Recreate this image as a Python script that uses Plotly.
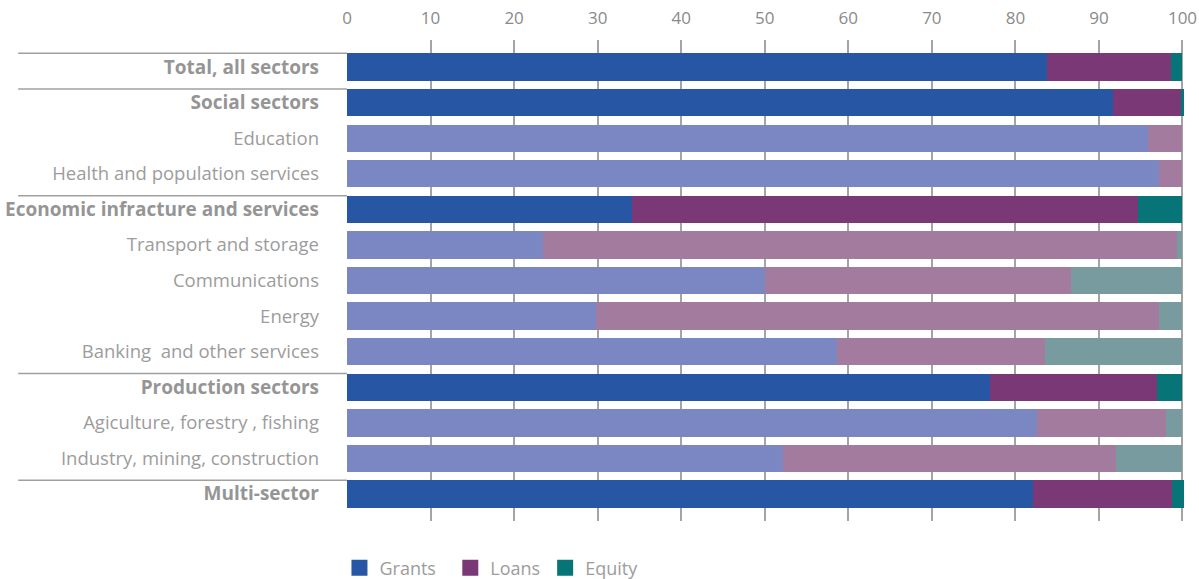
import plotly.graph_objects as go

# ---------------------------------------------------------------
# data (percent of commitments by instrument)
# ---------------------------------------------------------------
categories = [
    "Total, all sectors",
    "Social sectors",
    "Education",
    "Health and population services",
    "Economic infracture and services",
    "Transport and storage",
    "Communications",
    "Energy",
    "Banking  and other services",
    "Production sectors",
    "Agiculture, forestry , fishing",
    "Industry, mining, construction",
    "Multi-sector",
]
is_header = [True, True, False, False, True, False, False, False, False,
             True, False, False, True]

grants = [83.8, 91.7, 95.9, 97.2, 34.1, 23.5, 50.0, 29.8, 58.7, 77.0, 82.6, 52.2, 82.1]
loans = [14.8, 8.1, 4.1, 2.8, 60.6, 75.9, 36.6, 67.4, 24.9, 20.0, 15.4, 39.9, 16.7]
equity = [1.4, 0.4, 0.0, 0.0, 5.3, 0.6, 13.4, 2.8, 16.4, 3.0, 2.0, 7.9, 1.4]

# dark shade for headline rows, light shade for sub-sectors
colors = {
    "Grants": ("#2757a4", "#7b87c3"),
    "Loans": ("#7b3877", "#a27b9f"),
    "Equity": ("#077577", "#789ba0"),
}

FONT = "Open Sans"
GREY = "#9c9c9c"
BAR_W = 0.77

W, H = 1199, 579
ML, MT, MB = 347, 40, 58
PLOT_W = 838.5
MR = W - ML - PLOT_W

fig = go.Figure()
for name, vals in [("Grants", grants), ("Loans", loans), ("Equity", equity)]:
    dark, light = colors[name]
    fig.add_trace(go.Bar(
        name=name,
        y=categories,
        x=vals,
        orientation="h",
        marker=dict(color=[dark if h else light for h in is_header], line=dict(width=0)),
        hoverinfo="x+y+name",
        showlegend=False,
    ))
    # legend entry with a bigger square swatch
    label = name + ("\u00a0\u00a0" if name == "Grants" else "")
    fig.add_trace(go.Scatter(
        name=label,
        x=[None], y=[None],
        mode="markers",
        marker=dict(symbol="square", size=16, color=dark),
        hoverinfo="skip",
    ))

tick_text = [f'<span style="font-size:19px;color:#959595"><b>{c}</b></span>' if h else c
             for c, h in zip(categories, is_header)]

# separator rules drawn at the top edge of each headline bar
shapes = []
for i, h in enumerate(is_header):
    if h:
        shapes.append(dict(
            type="line", xref="paper", yref="y",
            x0=-(ML - 18) / PLOT_W, x1=0, y0=i - BAR_W / 2, y1=i - BAR_W / 2,
            line=dict(color="#a0a0a0", width=1.5),
        ))

fig.update_layout(
    width=W,
    height=H,
    barmode="stack",
    bargap=1 - BAR_W,
    plot_bgcolor="white",
    paper_bgcolor="white",
    font=dict(family=FONT, color=GREY, size=17),
    margin=dict(l=ML, r=MR, t=MT, b=MB, autoexpand=False),
    shapes=shapes,
    legend=dict(
        orientation="h",
        xref="paper", x=-0.009, xanchor="left",
        yref="container", y=(H - 568) / H, yanchor="middle",
        font=dict(size=18, color=GREY),
        itemsizing="trace",
        traceorder="normal",
    ),
    xaxis=dict(
        side="top",
        range=[0, 100.3],
        dtick=10,
        showgrid=True,
        gridcolor="#a4a4a4",
        gridwidth=1.5,
        zeroline=False,
        showline=False,
        tickfont=dict(size=17, color="#8a8a8a"),
        ticklabelstandoff=12,
        automargin=False,
        fixedrange=True,
    ),
    yaxis=dict(
        type="category",
        categoryorder="array",
        categoryarray=categories,
        range=[len(categories) - 1 + 0.76, -0.76],
        tickmode="array",
        tickvals=categories,
        ticktext=tick_text,
        tickfont=dict(size=18.5, color=GREY),
        ticklabelstandoff=27,
        showgrid=False,
        zeroline=False,
        automargin=False,
        fixedrange=True,
    ),
)

# drop the browser's default body margin so the figure sits at the page origin
fig.write_html(
    "out.html",
    config={"displayModeBar": False},
    post_script="document.body.style.margin='0';",
)
